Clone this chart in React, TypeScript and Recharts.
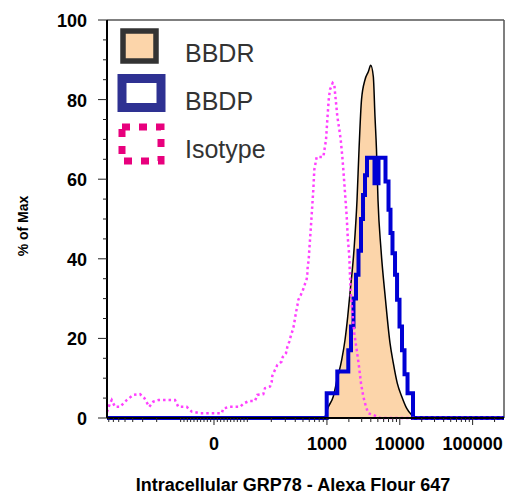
import { ComposedChart, Area, Line, XAxis, YAxis, ReferenceLine, Legend } from 'recharts'

// x values are display channels (0-1000 across the plot), y values are % of max
const bbdrChannel = [0, 546.6, 557.4, 570, 579.4, 591.2, 599.5, 606.3, 612.1, 622.2, 629.8, 634.8, 641.1, 649.9, 658.2, 664.3, 670.8, 675, 678.8, 682.6, 690.2, 701.5, 712.9, 721.2, 731.3, 742.4, 755, 767.5, 778.4, 788.5, 1000]
const bbdrPct = [0, 0, 2.8, 5.4, 9.6, 14.6, 19.6, 25.4, 31.4, 42.3, 54.8, 67.4, 80, 85, 87, 88.6, 85.8, 75.8, 67.4, 54.8, 42.3, 29.7, 18.8, 13.8, 8.7, 5.4, 2.4, 0.75, 0.1, 0, 0]

const bbdpChannel = [0, 553.4, 580.1, 607.8, 614.6, 620.9, 627.2, 633.5, 639.8, 644.9, 649.9, 654.9, 673.8, 683.9, 701.5, 709.1, 714.1, 719.1, 725.5, 730.6, 736.8, 743.1, 749.4, 757, 770.8, 1000]
const bbdpPct = [0, 6.2, 11.7, 17, 23, 30, 36, 42, 50, 56, 61, 65.4, 59, 65.4, 59.4, 52.3, 46.5, 41.4, 36, 29.7, 23, 17, 11, 6.2, 0, 0]

const isotypeChannel = [0, 7.6, 11.8, 20.2, 32.7, 49.6, 66.3, 83.1, 94, 106.6, 116.6, 129.2, 150.4, 171.3, 179.6, 200.8, 213.4, 234.3, 276.3, 289, 293, 309.8, 335, 345, 358.5, 372.8, 378.6, 393.7, 398, 410.6, 414.9, 416.4, 423.2, 429, 440, 442.6, 450.9, 454.2, 459.2, 462.7, 467.8, 471, 473.6, 476.1, 479.4, 481.9, 488, 493, 498.8, 503, 504.6, 505.6, 508, 509.6, 513.1, 516.4, 519.7, 522.2, 528.2, 544.9, 551.7, 555, 558.5, 561.7, 568.5, 572.6, 574.3, 576.9, 580.1, 585.2, 588.7, 592.7, 595.3, 599.5, 603.8, 606.3, 610.3, 611.5, 613.9, 618.9, 622.9, 629, 634.8, 639.8, 645.6, 652.4, 658.2, 670.8, 687.7, 1000]
const isotypePct = [1.5, 3.7, 4.5, 2.8, 2.8, 4.5, 5.8, 6.0, 5.0, 2.8, 4.1, 4.5, 4.5, 4.5, 2.8, 2.8, 1.6, 1.2, 1.2, 1.2, 2.4, 2.8, 2.8, 3.7, 4.3, 4.3, 5.8, 6.0, 7.5, 7.9, 9.1, 10.6, 12.1, 13.3, 14.2, 15.3, 16.3, 17.8, 19.2, 20.5, 22.1, 23.4, 25.1, 26.5, 28.2, 29.7, 30.9, 32.0, 33.7, 34.9, 36.4, 38.1, 39.7, 42.3, 47.3, 52.3, 57.4, 62.4, 65.6, 65.6, 69.9, 75.0, 80.0, 82.5, 84.2, 83.8, 81.8, 79.2, 75.8, 72.5, 69.9, 65.7, 62.4, 56.6, 50.6, 45.6, 40.6, 37.2, 31.4, 25.5, 21.3, 17.1, 12.9, 8.7, 5.4, 2.8, 1.2, 0.75, 0, 0]

const xMajorValues = [0, 1000, 10000, 100000]
const xMajorLabels = ['0', '1000', '10000', '100000']
const xMinorValues = [
  -800, -700, -600, -500, -400, -300, -200, -100,
  -90, -80, -70, -60, -50, -40, -30, -20, -10,
  10, 20, 30, 40, 50, 60, 70, 80, 90, 100,
  200, 300, 400, 500, 600, 700, 800, 900,
  2000, 3000, 4000, 5000, 6000, 7000, 8000, 9000,
  20000, 30000, 40000, 50000, 60000, 70000, 80000, 90000,
  200000,
]
const yTicks = [0, 5, 10, 15, 20, 25, 30, 35, 40, 45, 50, 55, 60, 65, 70, 75, 80, 85, 90, 95, 100]

const FONT = 'Arial, "Liberation Sans", sans-serif'

// biexponential-ish display transform: linear around zero, log above |100|
function toChannel(v: number) {
  if (Math.abs(v) <= 100) return 269.5 + 0.84 * v
  const s = Math.sign(v)
  const a = Math.abs(v)
  if (a <= 1000) return 269.5 + s * (84 + 200.5 * Math.log10(a / 100))
  return 269.5 + s * (284.5 + 183.5 * Math.log10(a / 1000))
}

const xMajorChannels = xMajorValues.map(toChannel)
const xTicks = [...xMajorChannels, ...xMinorValues.map(toChannel)].sort((a, b) => a - b)

const zip = (xs: number[], ys: number[]) => xs.map((x, i) => ({ ch: x, pct: ys[i] }))
const bbdrData = zip(bbdrChannel, bbdrPct)
const bbdpData = zip(bbdpChannel, bbdpPct)
const isotypeData = zip(isotypeChannel, isotypePct)

function XTick(props: any) {
  const { x, y, payload } = props
  const i = xMajorChannels.findIndex((c) => Math.abs(c - payload.value) < 0.01)
  const major = i >= 0
  return (
    <g>
      <line x1={x} x2={x} y1={y} y2={y + (major ? 7 : 4)} stroke="#222" strokeWidth={1} />
      {major && (
        <text x={x} y={y + 32} textAnchor="middle" fontSize={18} fontWeight="bold" fontFamily={FONT} fill="#000">
          {xMajorLabels[i]}
        </text>
      )}
    </g>
  )
}

function YTick(props: any) {
  const { x, y, payload } = props
  const major = payload.value % 20 === 0
  return (
    <g>
      <line x1={x - (major ? 9 : 4)} x2={x} y1={y} y2={y} stroke="#222" strokeWidth={1} />
      {major && (
        <text x={x - 20} y={y + 7} textAnchor="end" fontSize={18} fontWeight="bold" fontFamily={FONT} fill="#000">
          {payload.value}
        </text>
      )}
    </g>
  )
}

function XLabel() {
  return (
    <text x={293} y={491} textAnchor="middle" fontSize={18} fontWeight="bold" fontFamily={FONT} fill="#000">
      Intracellular GRP78 - Alexa Flour 647
    </text>
  )
}

function YLabel() {
  return (
    <text x={28} y={226} transform="rotate(-90 28 226)" textAnchor="middle" fontSize={14} fontWeight="bold" fontFamily={FONT} fill="#000">
      % of Max
    </text>
  )
}

function LegendBox() {
  const textStyle = { fontSize: 25, fontFamily: FONT, fill: '#333' }
  return (
    <svg width={300} height={175}>
      <rect x={123} y={31} width={33} height={30} fill="#fcd5aa" stroke="#333" strokeWidth={5.5} />
      <text x={185} y={62} {...textStyle}>BBDR</text>
      <rect x={122} y={78.5} width={39} height={29} fill="#fff" stroke="#2e3192" strokeWidth={9} />
      <text x={185} y={110} {...textStyle}>BBDP</text>
      <rect x={122} y={127} width={39} height={34} fill="none" stroke="#e8007d" strokeWidth={7} strokeDasharray="8 9" />
      <text x={185} y={157.5} {...textStyle}>Isotype</text>
    </svg>
  )
}

export default function App() {
  return (
    <div style={{ position: 'absolute', left: 0, top: 0 }}>
      <ComposedChart width={508} height={495} margin={{ top: 20, right: 4, bottom: 0, left: 0 }}>
        <XAxis
          type="number"
          dataKey="ch"
          domain={[0, 1000]}
          ticks={xTicks}
          interval={0}
          tick={<XTick />}
          tickLine={false}
          tickSize={0}
          tickMargin={0}
          axisLine={{ stroke: '#000', strokeWidth: 2 }}
          height={77}
          label={<XLabel />}
        />
        <YAxis
          type="number"
          domain={[0, 100]}
          ticks={yTicks}
          interval={0}
          tick={<YTick />}
          tickLine={false}
          tickSize={0}
          tickMargin={0}
          axisLine={{ stroke: '#000', strokeWidth: 2 }}
          width={107}
          label={<YLabel />}
        />
        <ReferenceLine y={100} stroke="#555" strokeWidth={1.5} />
        <ReferenceLine x={1000} stroke="#555" strokeWidth={1.5} />
        <Area
          data={bbdrData}
          dataKey="pct"
          type="monotone"
          fill="#fcd5aa"
          fillOpacity={1}
          stroke="#000"
          strokeWidth={1.5}
          dot={false}
          activeDot={false}
          isAnimationActive={false}
        />
        <Line
          data={bbdpData}
          dataKey="pct"
          type="stepAfter"
          stroke="#0000d4"
          strokeWidth={4}
          dot={false}
          activeDot={false}
          isAnimationActive={false}
        />
        <Line
          data={isotypeData}
          dataKey="pct"
          type="linear"
          stroke="#ff40ff"
          strokeWidth={2.5}
          strokeDasharray="2.5 3"
          dot={false}
          activeDot={false}
          isAnimationActive={false}
        />
        <Legend
          layout="vertical"
          align="center"
          verticalAlign="middle"
          wrapperStyle={{ left: 0, top: 0, width: 300, height: 175 }}
          content={() => <LegendBox />}
        />
      </ComposedChart>
    </div>
  )
}
